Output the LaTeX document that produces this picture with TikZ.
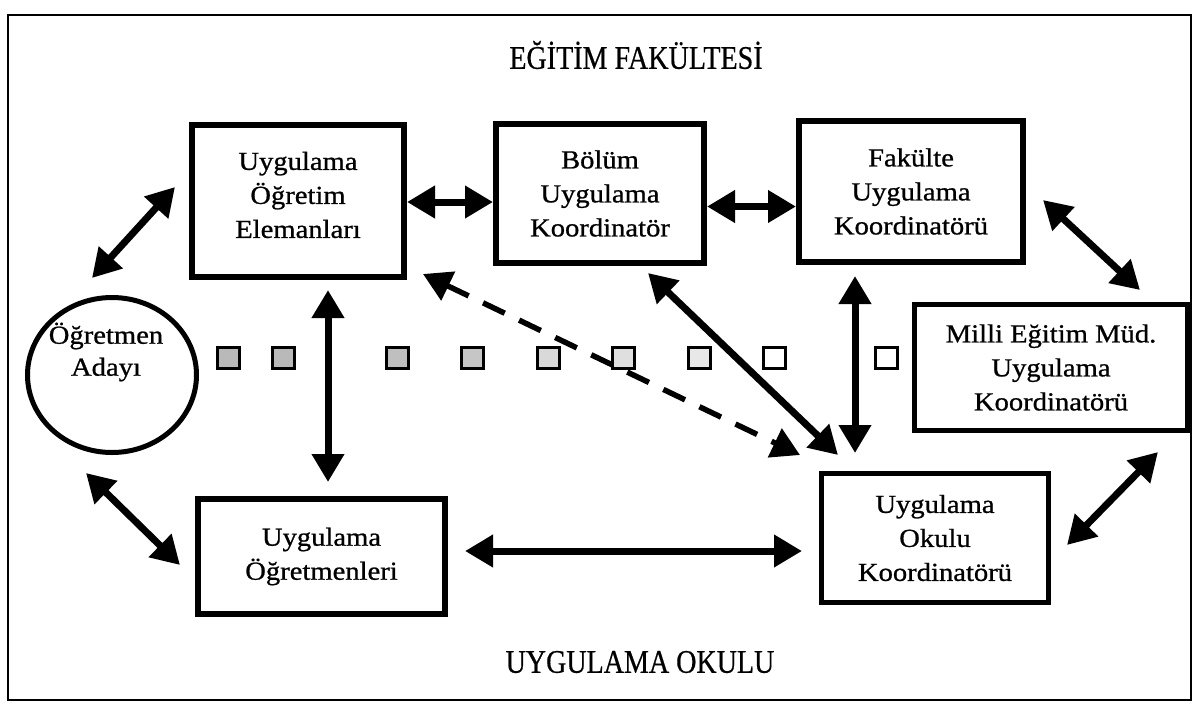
\documentclass[tikz,border=0pt]{standalone}
\usepackage{fontspec}
\setmainfont{Liberation Serif}[FakeStretch=1.1,FakeBold=0.8]
\newfontfamily\titlefont{Liberation Serif}[FakeStretch=0.85,FakeBold=0.5]
\usetikzlibrary{arrows.meta,shapes.geometric,calc}
\begin{document}
\begin{tikzpicture}[x=1pt,y=-1pt,
  box/.style={draw, line width=6pt, align=center, inner sep=0pt,
    font=\fontsize{26}{34}\selectfont},
  biarrow/.style={line width=7pt,
    {Triangle[length=28pt,width=31pt]}-{Triangle[length=28pt,width=31pt]}},
  dasharrow/.style={biarrow, line width=5.5pt, dash pattern=on 24pt off 16pt},
  sq/.style={draw, line width=3pt, minimum width=22pt, minimum height=21pt, inner sep=0pt},
  ttl/.style={font=\titlefont\fontsize{33}{33}\selectfont, inner sep=0pt},
]
\useasboundingbox[fill=white] (0,0) rectangle (1197,705);
\draw[line width=1.5pt] (8,15) rectangle (1191,700);

\node[ttl] (T1) at (636,55) {EĞİTİM FAKÜLTESİ};
\node[ttl] (T2) at (640,662) {UYGULAMA OKULU};

\node[box, minimum width=212pt, minimum height=152pt] (A) at (298,201) {};
\node[box, draw=none, minimum width=0pt, minimum height=0pt] (At) at (298,195)
  {Uygulama\\Öğretim\\Elemanları};
\node[box, minimum width=208pt, minimum height=139pt] (B) at (600,193.5)
  {Bölüm\\Uygulama\\Koordinatör};
\node[box, minimum width=224pt, minimum height=141pt] (C) at (911,191.5)
  {Fakülte\\Uygulama\\Koordinatörü};
\node[box, line width=5pt, minimum width=273pt, minimum height=126pt] (D) at (1051,367.5)
  {Milli Eğitim Müd.\\Uygulama\\Koordinatörü};
\node[box, line width=5pt, minimum width=227pt, minimum height=129pt] (E) at (935,538)
  {Uygulama\\Okulu\\Koordinatörü};
\node[box, minimum width=247pt, minimum height=115pt] (F) at (321.5,556.5)
  {Uygulama\\Öğretmenleri};
\node[draw, ellipse, line width=5pt, minimum width=169pt, minimum height=155pt] (O) at (112,375) {};
\node[font=\fontsize{26}{32}\selectfont, align=center, inner sep=0pt] (Ot) at (106,352) {Öğretmen\\Adayı};

\foreach \x/\g [count=\i] in {228.5/55,283.5/55,397.5/50,472.5/45,548.5/30,623.5/25,699.5/18,774.5/0,886.5/0}
  \node[sq, fill=gray!\g] (s\i) at (\x,358) {};

% connector end points
\coordinate (oa) at (92,278);
\coordinate (ao) at (175,187);
\coordinate (of) at (86,473);
\coordinate (fo) at (180,565);
\coordinate (cd) at (1043,200);
\coordinate (dc) at (1140,290);
\coordinate (af) at (328,290);
\coordinate (fa) at (328,482);
\coordinate (fe) at (465,551);
\coordinate (ef) at (802,551);
\coordinate (ed) at (1067,545);
\coordinate (de) at (1158,452);
\coordinate (be) at (648,273);
\coordinate (eb) at (838,455);
\coordinate (ce) at (855,276);
\coordinate (ec) at (855,453);
\coordinate (ae) at (423,274);
\coordinate (ea) at (800,455);

\draw[biarrow] (oa) -- (ao);
\draw[biarrow] (of) -- (fo);
\draw[biarrow] ([yshift=-1pt]A.east) -- ([yshift=-1pt]A.east -| B.west);
\draw[biarrow] ([yshift=-13pt]B.east) -- ([yshift=-13pt]B.east -| C.west);
\draw[biarrow] (cd) -- (dc);
\draw[biarrow] (af) -- (fa);
\draw[biarrow] (fe) -- (ef);
\draw[biarrow] (ed) -- (de);
\draw[biarrow] (be) -- (eb);
\draw[biarrow] (ce) -- (ec);
\draw[dasharrow] (ae) -- (ea);
\end{tikzpicture}
\end{document}
